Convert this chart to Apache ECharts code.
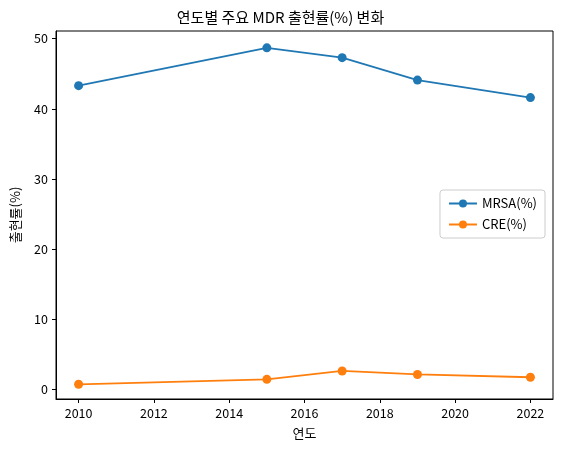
<!DOCTYPE html>
<html><head><meta charset="utf-8">
<script src="https://cdn.jsdelivr.net/npm/echarts@6/dist/echarts.min.js"></script>
<style>html,body{margin:0;padding:0;background:#fff}#c{width:561px;height:454px}</style>
</head><body><div id="c"></div>
<script>
const years = [2010, 2015, 2017, 2019, 2022];
const mrsa = [43.3, 48.7, 47.3, 44.1, 41.6];
const cre = [0.7, 1.4, 2.6, 2.1, 1.7];
const xTicks = [2010, 2012, 2014, 2016, 2018, 2020, 2022];
const yTicks = [0, 10, 20, 30, 40, 50];
const F = '"Noto Sans CJK KR", sans-serif';
const chart = echarts.init(document.getElementById('c'));
chart.setOption({
  animation: false,
  title: {text: '연도별 주요 MDR 출현률(%) 변화', left: 'center', top: 5,
    textStyle: {fontFamily: F, fontSize: 15, fontWeight: 'normal', color: '#000'}},
  grid: {left: 56, right: 8, top: 31, bottom: 55, show: true, borderColor: '#000', borderWidth: 1},
  legend: {right: 16, top: 190, orient: 'vertical', itemWidth: 28, itemHeight: 10, itemGap: 8,
    borderColor: '#ccc', borderWidth: 1, borderRadius: 3, padding: [7, 8],
    textStyle: {fontFamily: F, fontSize: 13, color: '#000'}},
  xAxis: {type: 'value', min: 2009.4, max: 2022.6, name: '연도', nameLocation: 'middle', nameGap: 28,
    nameTextStyle: {fontFamily: F, fontSize: 13, color: '#000'},
    axisLine: {onZero: false, lineStyle: {color: '#000'}},
    axisTick: {customValues: xTicks, length: 4, lineStyle: {color: '#000'}},
    axisLabel: {customValues: xTicks, fontFamily: F, fontSize: 12.5, color: '#000', formatter: v => String(v)},
    splitLine: {show: false}},
  yAxis: {type: 'value', min: -1.4, max: 51.1, name: '출현률(%)', nameLocation: 'middle', nameGap: 34,
    nameTextStyle: {fontFamily: F, fontSize: 13, color: '#000'},
    axisLine: {show: true, onZero: false, lineStyle: {color: '#000'}},
    axisTick: {show: true, customValues: yTicks, length: 4, lineStyle: {color: '#000'}},
    axisLabel: {customValues: yTicks, fontFamily: F, fontSize: 12.5, color: '#000'},
    splitLine: {show: false}},
  series: [
    {name: 'MRSA(%)', type: 'line', data: years.map((y, i) => [y, mrsa[i]]), color: '#1f77b4',
      symbol: 'circle', symbolSize: 9, lineStyle: {width: 1.8}},
    {name: 'CRE(%)', type: 'line', data: years.map((y, i) => [y, cre[i]]), color: '#ff7f0e',
      symbol: 'circle', symbolSize: 9, lineStyle: {width: 1.8}}
  ]
});
</script></body></html>
